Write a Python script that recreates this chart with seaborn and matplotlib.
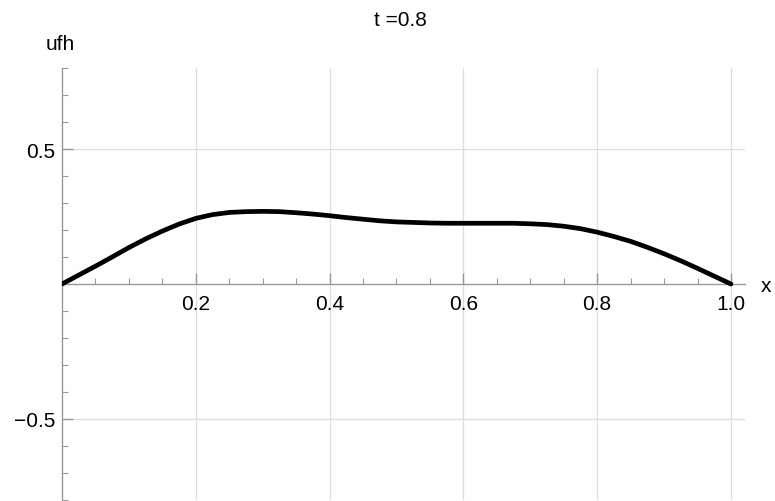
import numpy as np
import pandas as pd
import matplotlib
matplotlib.use("Agg")
import matplotlib.pyplot as plt
import seaborn as sns
from matplotlib.ticker import MultipleLocator, FixedLocator

# values
x_vals = [0.0, 0.025, 0.05, 0.075, 0.1, 0.125, 0.15, 0.175, 0.2, 0.225, 0.25,
          0.275, 0.3, 0.325, 0.35, 0.375, 0.4, 0.425, 0.45, 0.475, 0.5,
          0.525, 0.55, 0.575, 0.6, 0.625, 0.65, 0.675, 0.7, 0.725, 0.75,
          0.775, 0.8, 0.825, 0.85, 0.875, 0.9, 0.925, 0.95, 0.975, 1.0]
ufh_vals = [0.0, 0.033, 0.066, 0.100, 0.135, 0.167, 0.196, 0.222, 0.243, 0.257, 0.265,
            0.268, 0.269, 0.268, 0.264, 0.259, 0.253, 0.246, 0.240, 0.234, 0.230,
            0.228, 0.226, 0.225, 0.225, 0.225, 0.225, 0.225, 0.223, 0.220, 0.214,
            0.205, 0.192, 0.176, 0.158, 0.136, 0.112, 0.086, 0.058, 0.029, 0.0]
x_ticks = [0.2, 0.4, 0.6, 0.8, 1.0]
x_tick_labels = ["0.2", "0.4", "0.6", "0.8", "1.0"]
y_ticks = [-0.5, 0.5]
y_tick_labels = ["\u22120.5", "0.5"]
title = "t =0.8"

df = pd.DataFrame({"x": x_vals, "ufh": ufh_vals})

sns.set_style("white")
plt.rcParams['font.family'] = ['Liberation Sans', 'DejaVu Sans']
plt.rcParams['text.color'] = 'black'

fig = plt.figure(figsize=(7.75, 5.02), dpi=100)
ax = fig.add_axes([62 / 775, 1 - 501 / 502, (745 - 62) / 775, (501 - 69) / 502])

sns.lineplot(data=df, x="x", y="ufh", ax=ax, color="black", linewidth=3.4,
             solid_capstyle="round", solid_joinstyle="round", zorder=5)

ax.set_xlim(0, 1.021)
ax.set_ylim(-0.8, 0.8)

# mathematica style axes through origin
for s in ["top", "right"]:
    ax.spines[s].set_visible(False)
ax.spines["left"].set_position(("data", 0))
ax.spines["bottom"].set_position(("data", 0))
for s in ["left", "bottom"]:
    ax.spines[s].set_color("#999999")
    ax.spines[s].set_linewidth(1.0)

ax.xaxis.set_major_locator(FixedLocator(x_ticks))
ax.set_xticklabels(x_tick_labels)
ax.xaxis.set_minor_locator(MultipleLocator(0.05))
ax.yaxis.set_major_locator(FixedLocator(y_ticks))
ax.set_yticklabels(y_tick_labels)
ax.yaxis.set_minor_locator(MultipleLocator(0.1))

ax.tick_params(axis="both", which="both", bottom=True, left=True)
ax.tick_params(axis="both", which="major", direction="in", length=8, width=1,
               color="#999999", labelsize=15, labelcolor="black")
ax.tick_params(axis="both", which="minor", direction="in", length=4.5, width=0.8,
               color="#999999")
ax.tick_params(axis="x", which="major", pad=7)
ax.tick_params(axis="y", which="major", pad=5)

ax.grid(True, which="major", color="#dddddd", linewidth=0.9)
ax.set_axisbelow(True)

ax.set_xlabel("")
ax.set_ylabel("")
fig.text(60 / 775, 1 - 45 / 502, "ufh", ha="center", va="center", fontsize=15, color="black")
fig.text(766 / 775, 1 - 287 / 502, "x", ha="center", va="center", fontsize=15, color="black")
fig.text(400 / 775, 1 - 20 / 502, title, ha="center", va="center", fontsize=15, color="black")

fig.savefig("out.png", dpi=100)
